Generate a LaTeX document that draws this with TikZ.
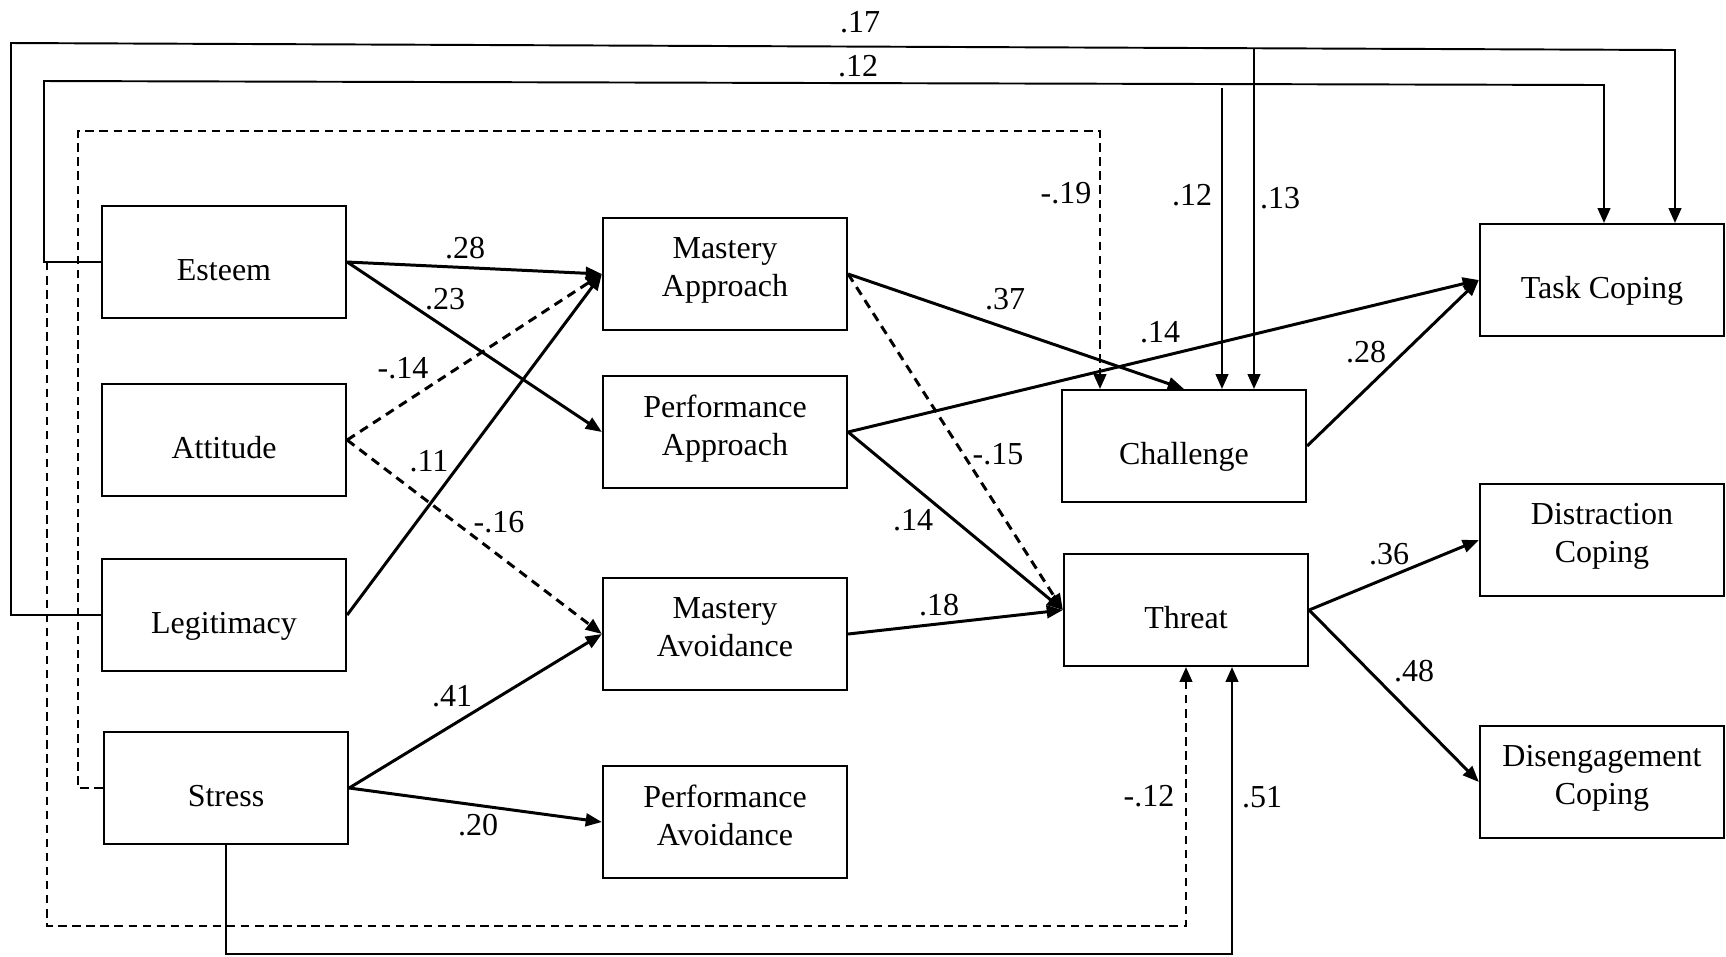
\documentclass[tikz,border=0pt]{standalone}
\usepackage{fontspec}
\setmainfont{Liberation Serif}
\usetikzlibrary{arrows.meta}

\tikzset{
  var/.style={draw, line width=0.6pt, minimum width=2.44cm, minimum height=1.12cm,
    inner sep=1pt, align=center, font=\fontsize{9.1}{10.8}\selectfont},
  one/.style={var, text height=10.4pt, text depth=0pt},
  two/.style={var, text depth=4.1pt},
  eff/.style={line width=0.85pt, -{Triangle[length=4.6pt,width=3.6pt]}},
  neg/.style={eff, dash pattern=on 2.6pt off 1.8pt},
  wire/.style={line width=0.55pt, -{Triangle[length=4.2pt,width=3.6pt]}},
  negwire/.style={wire, dash pattern=on 2.4pt off 1.6pt},
  coef/.style={inner sep=1pt, font=\fontsize{9.1}{11}\selectfont}
}

\begin{document}
\begin{tikzpicture}[x=0.01cm, y=-0.01cm]
    \useasboundingbox (0,0) rectangle (1726,956);

    % 前因变量
    \node[one] (esteem)   at (224,262) {Esteem};
    \node[one] (attitude) at (224,440) {Attitude};
    \node[one] (legit)    at (224,615) {Legitimacy};
    \node[one] (stress)   at (226,788) {Stress};

    % 成就目标
    \node[two] (mapp) at (725,274) {Mastery\\Approach};
    \node[two] (papp) at (725,432) {Performance\\Approach};
    \node[two] (mavo) at (725,634) {Mastery\\Avoidance};
    \node[two] (pavo) at (725,822) {Performance\\Avoidance};

    % 评价
    \node[one] (chal)   at (1184,446) {Challenge};
    \node[one] (threat) at (1186,610) {Threat};

    % 应对方式
    \node[one] (task)   at (1602,280) {Task Coping};
    \node[two] (distr)  at (1602,540) {Distraction\\Coping};
    \node[two] (diseng) at (1602,782) {Disengagement\\Coping};

    % 直接路径
    \draw[eff] (esteem.east) -- (mapp.west);
    \draw[eff] (esteem.east) -- (papp.west);
    \draw[neg] (attitude.east) -- (mapp.west);
    \draw[neg] (attitude.east) -- (mavo.west);
    \draw[eff] (legit.east) -- (mapp.west);
    \draw[eff] (stress.east) -- (mavo.west);
    \draw[eff] (stress.east) -- (pavo.west);
    \draw[eff] (mapp.east) -- (chal.north);
    \draw[neg] (mapp.east) -- (threat.west);
    \draw[eff] (papp.east) -- (task.west);
    \draw[eff] (papp.east) -- (threat.west);
    \draw[eff] (mavo.east) -- (threat.west);
    \draw[eff] (chal.east) -- (task.west);
    \draw[eff] (threat.east) -- (distr.west);
    \draw[eff] (threat.east) -- (diseng.west);

    % 绕行路径(上方)
    \coordinate (l17) at (11,43);
    \coordinate (r17) at (1675,50);
    \draw[wire] (legit.west) -| (l17) -- (r17) -- (r17 |- task.north);

    \coordinate (l12) at (44,81);
    \coordinate (r12) at (1604,85);
    \draw[wire] (esteem.west) -| (l12) -- (r12) -- (r12 |- task.north);

    \coordinate (c12) at (1222,88);
    \coordinate (c13) at (1254,48);
    \draw[wire] (c12) -- (c12 |- chal.north);
    \draw[wire] (c13) -- (c13 |- chal.north);

    \coordinate (l19) at (78,131);
    \coordinate (r19) at (1100,131);
    \draw[negwire] (stress.west) -| (l19) -- (r19) -- (r19 |- chal.north);

    % 绕行路径(下方)
    \coordinate (b12) at (47,926);
    \draw[negwire] (b12 |- esteem.west) -- (b12) -| (threat.south);

    \coordinate (b51) at (1232,954);
    \draw[wire] (stress.south) |- (b51) -- (b51 |- threat.south);

    % 路径系数
    \node[coef] (k17)  at (860,22)   {.17};
    \node[coef] (k12)  at (858,66)   {.12};
    \node[coef] (k28)  at (465,248)  {.28};
    \node[coef] (k23)  at (445,299)  {.23};
    \node[coef] (k14a) at (403,368)  {-.14};
    \node[coef] (k11)  at (429,461)  {.11};
    \node[coef] (k16)  at (499,522)  {-.16};
    \node[coef] (k41)  at (452,696)  {.41};
    \node[coef] (k20)  at (478,825)  {.20};
    \node[coef] (k37)  at (1005,299) {.37};
    \node[coef] (k14b) at (1160,332) {.14};
    \node[coef] (k19)  at (1066,193) {-.19};
    \node[coef] (k12c) at (1192,195) {.12};
    \node[coef] (k13)  at (1280,198) {.13};
    \node[coef] (k28b) at (1366,352) {.28};
    \node[coef] (k15)  at (998,454)  {-.15};
    \node[coef] (k14c) at (913,520)  {.14};
    \node[coef] (k18)  at (939,605)  {.18};
    \node[coef] (k36)  at (1389,554) {.36};
    \node[coef] (k48)  at (1414,671) {.48};
    \node[coef] (k12d) at (1149,796) {-.12};
    \node[coef] (k51)  at (1262,797) {.51};

\end{tikzpicture}
\end{document}
